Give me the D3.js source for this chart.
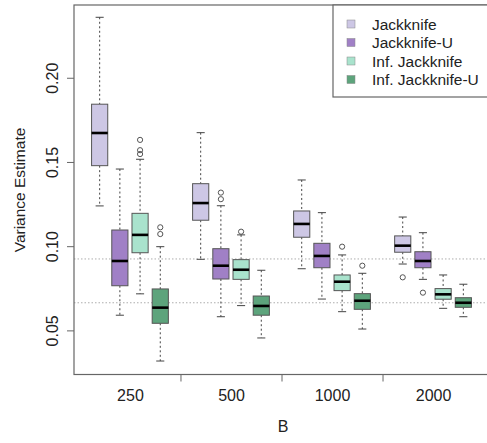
<!DOCTYPE html>
<html>
<head>
<meta charset="utf-8">
<script src="https://cdn.jsdelivr.net/npm/d3@7"></script>
<style>
  body { margin: 0; background: #fff; }
  svg { font-family: "Liberation Sans", Arial, sans-serif; }
</style>
</head>
<body>
<svg id="chart" width="487" height="443"></svg>
<script>
// groups along x, series inside each group
var groups = ["250", "500", "1000", "2000"];
var series = ["Jackknife", "Jackknife-U", "Inf. Jackknife", "Inf. Jackknife-U"];
var colors = ["#cdc7e5", "#a080c6", "#a9e3cd", "#5da47c"];

// box stats, one row per series, one column per group
var lower  = [[0.1242, 0.0925, 0.0869, 0.0897],
              [0.0593, 0.0584, 0.0689, 0.0806],
              [0.0720, 0.0650, 0.0614, 0.0634],
              [0.0321, 0.0458, 0.0511, 0.0584]];
var q1     = [[0.1481, 0.1157, 0.1056, 0.0967],
              [0.0768, 0.0808, 0.0875, 0.0875],
              [0.0964, 0.0806, 0.0739, 0.0688],
              [0.0545, 0.0593, 0.0628, 0.0640]];
var median = [[0.1675, 0.1259, 0.1135, 0.1006],
              [0.0915, 0.0887, 0.0945, 0.0915],
              [0.1070, 0.0863, 0.0792, 0.0717],
              [0.0638, 0.0648, 0.0679, 0.0667]];
var q3     = [[0.1846, 0.1374, 0.1212, 0.1064],
              [0.1099, 0.0988, 0.1020, 0.0970],
              [0.1198, 0.0923, 0.0832, 0.0751],
              [0.0749, 0.0707, 0.0721, 0.0697]];
var upper  = [[0.2362, 0.1677, 0.1396, 0.1176],
              [0.1461, 0.1243, 0.1202, 0.1083],
              [0.1519, 0.1070, 0.0951, 0.0832],
              [0.1000, 0.0860, 0.0842, 0.0777]];

// outliers: [series, group, value]
var outliers = [[2, 0, 0.1634], [2, 0, 0.1573], [2, 0, 0.1550],
                [3, 0, 0.1115], [3, 0, 0.1075],
                [1, 1, 0.1321], [1, 1, 0.1282],
                [2, 1, 0.1089],
                [2, 2, 0.1000],
                [3, 2, 0.0887],
                [0, 3, 0.0818],
                [1, 3, 0.0727]];

// reference lines
var refLines = [0.0927, 0.0667];
var yTicks = [0.05, 0.10, 0.15, 0.20];

(function() {
var svg = d3.select("#chart");
var pLeft = 74, pRight = 489, pTop = 5, pBottom = 374.5;

var x = d3.scaleLinear().domain([-0.27, 20.27]).range([pLeft, pRight]);
var y = d3.scaleLinear().domain([0.0241, 0.2435]).range([pBottom, pTop]);

function pos(s, g) { return g * 5 + s + 1; }

var boxW = x(0.8) - x(0);
var capW = boxW / 2;

// reference dotted lines
svg.append("g").selectAll("line")
    .data(refLines)
    .enter().append("line")
    .attr("x1", pLeft).attr("x2", pRight)
    .attr("y1", function(d) { return y(d); })
    .attr("y2", function(d) { return y(d); })
    .attr("stroke", "#999")
    .attr("stroke-width", 0.8)
    .attr("stroke-dasharray", "1.5,2");

// flatten box data
var boxes = [];
for (var s = 0; s < series.length; s++) {
    for (var g = 0; g < groups.length; g++) {
        boxes.push({s: s, g: g, lo: lower[s][g], q1: q1[s][g], med: median[s][g],
                    q3: q3[s][g], hi: upper[s][g]});
    }
}

var bx = svg.append("g").selectAll("g")
    .data(boxes)
    .enter().append("g");

// whiskers
bx.append("line")
    .attr("x1", function(d) { return x(pos(d.s, d.g)); })
    .attr("x2", function(d) { return x(pos(d.s, d.g)); })
    .attr("y1", function(d) { return y(d.hi); })
    .attr("y2", function(d) { return y(d.q3); })
    .attr("stroke", "#444").attr("stroke-dasharray", "2,2.5");
bx.append("line")
    .attr("x1", function(d) { return x(pos(d.s, d.g)); })
    .attr("x2", function(d) { return x(pos(d.s, d.g)); })
    .attr("y1", function(d) { return y(d.q1); })
    .attr("y2", function(d) { return y(d.lo); })
    .attr("stroke", "#444").attr("stroke-dasharray", "2,2.5");

// caps
["hi", "lo"].forEach(function(k) {
    bx.append("line")
        .attr("x1", function(d) { return x(pos(d.s, d.g)) - capW / 2; })
        .attr("x2", function(d) { return x(pos(d.s, d.g)) + capW / 2; })
        .attr("y1", function(d) { return y(d[k]); })
        .attr("y2", function(d) { return y(d[k]); })
        .attr("stroke", "#444");
});

// boxes
bx.append("rect")
    .attr("x", function(d) { return x(pos(d.s, d.g)) - boxW / 2; })
    .attr("width", boxW)
    .attr("y", function(d) { return y(d.q3); })
    .attr("height", function(d) { return y(d.q1) - y(d.q3); })
    .attr("fill", function(d) { return colors[d.s]; })
    .attr("stroke", "#555");

// medians
bx.append("line")
    .attr("x1", function(d) { return x(pos(d.s, d.g)) - boxW / 2; })
    .attr("x2", function(d) { return x(pos(d.s, d.g)) + boxW / 2; })
    .attr("y1", function(d) { return y(d.med); })
    .attr("y2", function(d) { return y(d.med); })
    .attr("stroke", "#000").attr("stroke-width", 2.6);

// outliers
svg.append("g").selectAll("circle")
    .data(outliers)
    .enter().append("circle")
    .attr("cx", function(d) { return x(pos(d[0], d[1])); })
    .attr("cy", function(d) { return y(d[2]); })
    .attr("r", 2.6)
    .attr("fill", "none")
    .attr("stroke", "#555");

// axes
var yAxis = svg.append("g")
    .attr("transform", "translate(" + pLeft + ",0)")
    .call(d3.axisLeft(y).tickValues(yTicks).tickFormat(d3.format(".2f")).tickSize(7));
yAxis.selectAll(".tick text")
    .attr("transform", function(d) { return "translate(-16," + y(d) + ") rotate(-90)"; })
    .attr("x", 0)
    .attr("y", 0)
    .attr("dy", "0")
    .attr("text-anchor", "middle");
yAxis.selectAll(".tick").attr("transform", null);
yAxis.selectAll(".tick line")
    .attr("y1", function(d) { return y(d); })
    .attr("y2", function(d) { return y(d); });

svg.append("g")
    .attr("transform", "translate(0," + pBottom + ")")
    .call(d3.axisBottom(x).tickValues([5, 10, 15]).tickFormat("").tickSize(7));

svg.append("g")
    .attr("transform", "translate(0," + pBottom + ")")
    .call(d3.axisBottom(x).tickValues([2.5, 7.5, 12.5, 17.5])
        .tickFormat(function(d, i) { return groups[i]; }).tickSize(0).tickPadding(15));

svg.selectAll(".domain").remove();
svg.selectAll(".tick line").attr("stroke", "#666");
svg.selectAll(".tick text").attr("font-size", 16).attr("fill", "#222")
    .attr("font-family", "Liberation Sans, Arial, sans-serif");

// plot frame
svg.append("rect")
    .attr("x", pLeft).attr("y", pTop)
    .attr("width", pRight - pLeft).attr("height", pBottom - pTop)
    .attr("fill", "none").attr("stroke", "#666").attr("stroke-width", 1.2);

// axis titles
svg.append("text")
    .attr("x", 283).attr("y", 432)
    .attr("text-anchor", "middle").attr("font-size", 16).attr("fill", "#222")
    .text("B");
svg.append("text")
    .attr("transform", "translate(25,190) rotate(-90)")
    .attr("text-anchor", "middle").attr("font-size", 15.5).attr("fill", "#222")
    .text("Variance Estimate");

// legend
var lg = svg.append("g");
lg.append("rect")
    .attr("x", 333).attr("y", pTop).attr("width", 170).attr("height", 92)
    .attr("fill", "#fff").attr("stroke", "#666").attr("stroke-width", 1.2);
var item = lg.selectAll("g.item")
    .data(series)
    .enter().append("g")
    .attr("class", "item")
    .attr("transform", function(d, i) { return "translate(0," + (24 + i * 18.5) + ")"; });
item.append("rect")
    .attr("x", 347).attr("y", -4).attr("width", 8).attr("height", 8)
    .attr("fill", function(d, i) { return colors[i]; })
    .attr("stroke", "#888").attr("stroke-width", 0.5);
item.append("text")
    .attr("x", 372).attr("y", 5.5)
    .attr("font-size", 15.5).attr("fill", "#222")
    .text(function(d) { return d; });
})();
</script>
</body>
</html>
